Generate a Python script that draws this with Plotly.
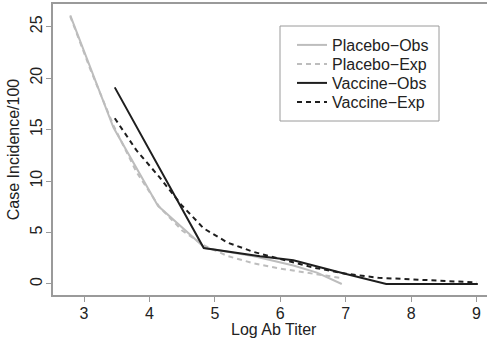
import plotly.graph_objects as go

# Data
placebo_obs_x = [2.79, 3.45, 4.13, 4.85, 5.6, 6.2, 6.56, 6.94]
placebo_obs_y = [26.1, 15.2, 7.6, 3.5, 2.7, 1.8, 1.1, 0.0]

placebo_exp_x = [2.79, 3.1, 3.45, 3.8, 4.15, 4.5, 4.85, 5.2, 5.6, 6.0, 6.5, 6.91]
placebo_exp_y = [26.0, 20.8, 15.4, 10.9, 7.5, 5.2, 3.7, 2.7, 2.0, 1.5, 1.0, 0.6]

vaccine_obs_x = [3.47, 4.83, 5.69, 6.2, 6.96, 7.62, 9.02]
vaccine_obs_y = [19.1, 3.5, 2.7, 2.3, 1.05, 0.0, 0.0]

vaccine_exp_x = [3.47, 3.8, 4.15, 4.5, 4.83, 5.2, 5.6, 6.0, 6.5, 7.0, 7.5, 8.0, 8.5, 9.0]
vaccine_exp_y = [16.1, 13.0, 10.4, 7.6, 5.4, 4.0, 3.1, 2.4, 1.6, 1.0, 0.6, 0.45, 0.3, 0.15]

x_ticks = [3, 4, 5, 6, 7, 8, 9]
y_ticks = [0, 5, 10, 15, 20, 25]

LIGHT = "#bdbdbd"
DARK = "#1e1e1e"
AXIS = "#9a9a9a"
FONT = "Liberation Sans, Arial, sans-serif"

W, H = 487, 339
ML, MR, MT, MB = 53, 0, 4, 44
PW, PH = W - ML - MR, H - MT - MB


def px_x(p):
    return (p - ML) / PW


def px_y(p):
    return (H - MB - p) / PH


series = [
    ("Placebo\u2212Obs", placebo_obs_x, placebo_obs_y, LIGHT, "solid"),
    ("Placebo\u2212Exp", placebo_exp_x, placebo_exp_y, LIGHT, "5px,4px"),
    ("Vaccine\u2212Obs", vaccine_obs_x, vaccine_obs_y, DARK, "solid"),
    ("Vaccine\u2212Exp", vaccine_exp_x, vaccine_exp_y, DARK, "5px,4px"),
]
legend_rows = [45, 64, 83, 102]

fig = go.Figure()
layout_legends = {}
for i, (name, xs, ys, col, dash) in enumerate(series):
    key = "legend" if i == 0 else f"legend{i + 1}"
    fig.add_trace(go.Scatter(x=xs, y=ys, mode="lines", name=name,
                             line=dict(color=col, width=2, dash=dash),
                             legend=key))
    layout_legends[key] = dict(x=px_x(292), y=px_y(legend_rows[i]),
                               xanchor="left", yanchor="middle",
                               bgcolor="rgba(0,0,0,0)", borderwidth=0,
                               font=dict(family=FONT, size=16, color="#222"),
                               itemwidth=30)

fig.update_layout(
    width=W, height=H,
    margin=dict(l=ML, r=MR, t=MT, b=MB, autoexpand=False),
    paper_bgcolor="white", plot_bgcolor="white",
    font=dict(family=FONT, size=16, color="#222"),
    showlegend=True,
    **layout_legends,
    shapes=[dict(type="rect", xref="paper", yref="paper",
                 x0=px_x(280), x1=px_x(439), y0=px_y(121), y1=px_y(26),
                 line=dict(color=AXIS, width=1), layer="below")],
    annotations=[dict(text="Log Ab Titer", xref="paper", yref="paper",
                      x=px_x(274), y=px_y(329), xanchor="center", yanchor="middle",
                      showarrow=False, font=dict(family=FONT, size=16, color="#222"))],
    xaxis=dict(range=[2.526, 9.16], tickvals=x_ticks, ticks="outside", ticklen=5,
               tickcolor=AXIS, showline=True, linecolor=AXIS, linewidth=1.5, mirror=True,
               showgrid=False, zeroline=False, automargin=False, ticklabelstandoff=-2,
               tickfont=dict(size=16)),
    yaxis=dict(range=[-1.07, 27.2], tickvals=y_ticks, ticks="outside", ticklen=5,
               tickcolor=AXIS, showline=True, linecolor=AXIS, linewidth=1.5,
               showgrid=False, zeroline=False, tickangle=-90, ticklabelstandoff=-2,
               automargin=False,
               title=dict(text="Case Incidence/100", standoff=4, font=dict(size=16)),
               tickfont=dict(size=16)),
)

fig.write_html("out.html")
